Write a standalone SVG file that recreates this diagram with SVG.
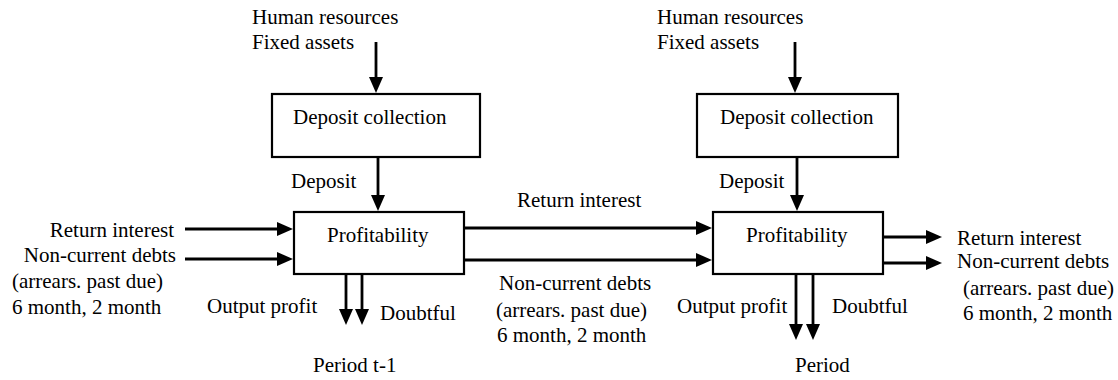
<svg xmlns="http://www.w3.org/2000/svg" width="1118" height="380" viewBox="0 0 1118 380">
<defs>
<marker id="ah" markerUnits="userSpaceOnUse" markerWidth="16" markerHeight="14" refX="1" refY="7" orient="auto">
<path d="M0,0 L16,7 L0,14 z" fill="#000"/>
</marker>
</defs>
<rect width="1118" height="380" fill="#fff"/>
<g id="connectors" stroke="#000" stroke-width="2.8" fill="none" marker-end="url(#ah)">
<line x1="376" y1="42" x2="376" y2="78"/>
<line x1="378" y1="157" x2="378" y2="196"/>
<line x1="185" y1="229" x2="278" y2="229"/>
<line x1="185" y1="259" x2="278" y2="259"/>
<line x1="346" y1="274" x2="346" y2="310"/>
<line x1="362" y1="274" x2="362" y2="310"/>
<line x1="464" y1="228" x2="697" y2="228"/>
<line x1="464" y1="260" x2="697" y2="260"/>
<line x1="795" y1="42" x2="795" y2="78"/>
<line x1="797" y1="157" x2="797" y2="196"/>
<line x1="796" y1="274" x2="796" y2="325"/>
<line x1="813" y1="274" x2="813" y2="325"/>
<line x1="883" y1="237" x2="927" y2="237"/>
<line x1="883" y1="263" x2="927" y2="263"/>
</g>
<g id="labels" font-family="Liberation Serif" font-size="21" fill="#000">
<text x="252" y="24">Human resources</text>
<text x="252" y="49">Fixed assets</text>
<text x="291" y="188">Deposit</text>
<text x="174" y="237" text-anchor="end">Return interest</text>
<text x="176" y="262" text-anchor="end">Non-current debts</text>
<text x="12" y="288">(arrears. past due)</text>
<text x="12" y="314">6 month, 2 month</text>
<text x="207" y="313">Output profit</text>
<text x="380" y="320">Doubtful</text>
<text x="313" y="372">Period t-1</text>
<text x="517" y="207">Return interest</text>
<text x="499" y="290">Non-current debts</text>
<text x="496" y="317">(arrears. past due)</text>
<text x="497" y="342">6 month, 2 month</text>
<text x="657" y="24">Human resources</text>
<text x="657" y="49">Fixed assets</text>
<text x="719" y="188">Deposit</text>
<text x="677" y="313">Output profit</text>
<text x="832" y="313">Doubtful</text>
<text x="795" y="372">Period</text>
<text x="957" y="245">Return interest</text>
<text x="957" y="268">Non-current debts</text>
<text x="963" y="295">(arrears. past due)</text>
<text x="963" y="320">6 month, 2 month</text>
</g>
<g id="deposit-collection-1" font-family="Liberation Serif" font-size="21">
<rect x="272" y="94" width="208" height="63" fill="#fff" stroke="#000" stroke-width="2.2"/>
<text x="293" y="124">Deposit collection</text>
</g>
<g id="profitability-1" font-family="Liberation Serif" font-size="21">
<rect x="294" y="212" width="170" height="62" fill="#fff" stroke="#000" stroke-width="2.2"/>
<text x="327" y="242">Profitability</text>
</g>
<g id="deposit-collection-2" font-family="Liberation Serif" font-size="21">
<rect x="697" y="94" width="201" height="63" fill="#fff" stroke="#000" stroke-width="2.2"/>
<text x="720" y="124">Deposit collection</text>
</g>
<g id="profitability-2" font-family="Liberation Serif" font-size="21">
<rect x="713" y="212" width="170" height="62" fill="#fff" stroke="#000" stroke-width="2.2"/>
<text x="746" y="242">Profitability</text>
</g>
</svg>
